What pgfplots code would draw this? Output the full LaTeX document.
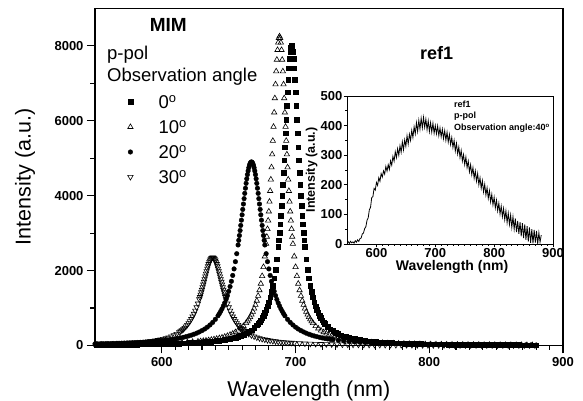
\documentclass[border=0pt]{standalone}
\usepackage{fontspec}
\setmainfont{Liberation Sans}
\usepackage{pgfplots}
\pgfplotsset{compat=1.18}
\newcommand{\fs}[1]{\fontsize{#1}{#1}\selectfont}

\begin{document}
\begin{tikzpicture}
\useasboundingbox (0pt,0pt) rectangle (583pt,401pt);
% main chart
\begin{axis}[
  at={(95pt,55.5pt)}, anchor=south west,
  width=468pt, height=337.2pt, scale only axis,
  xmin=550, xmax=900, ymin=0, ymax=9000,
  xtick={600,700,800,900}, ytick={0,2000,4000,6000,8000},
  minor x tick num=9, minor y tick num=1,
  xtick pos=bottom, ytick pos=left, tick align=outside,
  major tick length=8pt, minor tick length=4.5pt,
  every tick/.style={black, line width=1.1pt},
  axis line style={line width=1.5pt},
  scaled ticks=false,
  /pgf/number format/1000 sep={},
  /pgf/number format/assume math mode=true,
  ticklabel style={font=\fs{13}\bfseries},
  xlabel={Wavelength (nm)}, ylabel={Intensity (a.u.)},
  every axis x label/.style={at={(axis description cs:0.457,-0.1527)},anchor=base,font=\fs{21.5}},
  every axis y label/.style={at={(axis description cs:-0.1496,0.5)},rotate=90,anchor=center,font=\fs{21.5}},
  clip=false,
  legend style={draw=none, fill=none, at={(0.062,0.745)}, anchor=north west,
    inner sep=0pt, row sep=6pt, column sep=0pt, font=\fs{18.5},
    cells={anchor=base west},
    nodes={inner sep=0pt, text height=14pt, text depth=5pt}},
  legend image code/.code={\draw[#1] plot coordinates {(0pt,6.5pt)}; \path (-6pt,0pt) (28pt,0pt);},
]
% 0 deg
\addplot[only marks, mark=square*, mark size=2.3pt, black] coordinates {
(551,18)(553,19)(555,19)(557,20)(559,21)(561,21)(563,22)(565,22)(567,23)(569,24)(571,25)(573,25)(575,26)(577,27)(579,28)(581,29)(583,30)(585,31)(587,32)(589,33)(591,35)(593,36)(595,38)(597,39)(599,41)(601,42)(603,44)(605,46)(607,48)(609,50)(611,53)(613,55)(615,58)(617,61)(619,64)(621,67)(623,71)(625,75)(627,79)(629,84)(631,89)(633,95)(635,101)(637,107)(639,116)(641,124)(643,134)(645,144)(647,154)(649,167)(651,181)(653,197)(655,216)(657,238)(659,263)(661,291)(663,325)(665,365)(667,413)(669,471)(671,541)
(672,582)(673,627)(674,678)(675,735)(676,800)(677,873)(678,956)(679,1051)(680,1160)(681,1285)(682,1431)(683,1600)(684,1798)(685,2031)(686,2306)(687,2631)
(687.5,2815)(688,3015)(688.5,3233)(689,3469)(689.5,3724)(690,4000)(690.5,4296)(691,4612)(691.5,4946)(692,5297)(692.5,5661)(693,6031)(693.5,6400)(694,6759)(694.5,7095)(695,7396)(695.5,7649)(696,7840)(696.5,7959)(697,8000)(697.5,7959)(698,7840)(698.5,7649)(699,7396)(699.5,7095)(700,6759)(700.5,6400)(701,6031)(701.5,5661)(702,5297)(702.5,4946)(703,4612)(703.5,4296)(704,4000)(704.5,3724)(705,3469)(705.5,3233)(706,3015)(706.5,2815)(707,2631)
(708,2306)(709,2031)(710,1798)(711,1600)(712,1431)(713,1285)(714,1160)(715,1051)(716,956)(717,873)(718,800)(719,735)(720,678)(721,627)(722,582)
(724,504)(726,440)(728,388)(730,344)(732,308)(734,276)(736,250)(738,227)(740,207)(742,189)(744,174)(746,160)(748,148)(750,137)(752,128)(754,119)(756,111)(758,104)(760,98)(762,92)(764,86)(766,81)(768,77)(770,73)(772,69)(774,66)(776,62)(778,59)(780,57)(782,54)(784,51)(786,49)(788,47)(790,45)(792,43)(794,41)(796,40)(798,38)(800,37)(802,35)(804,34)(806,33)(808,32)(810,31)(812,30)(814,29)(816,28)(818,27)(820,26)(822,25)(824,24)(826,24)(828,23)(830,22)(832,22)(834,21)(836,20)(838,20)(840,19)(842,19)(844,18)(846,18)(848,17)(850,17)(852,16)(854,16)(856,16)(858,15)(860,15)(862,14)(864,14)(866,14)(868,13)(870,13)(872,13)(874,13)(876,12)(878,12)(880,12)};
% 10 deg
\addplot[only marks, mark=triangle, mark size=3.1pt, black, mark options={line width=0.6pt}] coordinates {
(551,22)(555,23)(559,25)(563,26)(567,28)(571,30)(575,32)(579,34)(583,37)(587,40)(591,43)(595,47)(599,51)(603,56)(607,61)(611,68)(615,75)(619,84)(623,95)(627,107)
(629,114)(631,123)(633,132)(635,141)(637,153)(639,165)(641,179)(643,195)(645,213)(647,234)(649,257)(651,285)(653,317)(655,355)(657,400)(659,454)(661,520)
(663,600)(664,647)(665,699)(666,758)(667,825)(668,900)(669,986)(670,1084)(671,1196)(672,1325)(673,1475)(674,1650)(675,1854)(676,2095)(677,2378)
(678,2713)(678.5,2903)(679,3109)(679.5,3334)(680,3577)(680.5,3840)(681,4125)(681.5,4430)(682,4756)(682.5,5101)(683,5463)(683.5,5838)(684,6219)(684.5,6600)(685,6970)(685.5,7317)(686,7627)(686.5,7888)(687,8085)(687.5,8208)(688,8250)(688.5,8208)(689,8085)(689.5,7888)(690,7627)(690.5,7317)(691,6970)(691.5,6600)(692,6219)(692.5,5838)(693,5463)(693.5,5101)(694,4756)(694.5,4430)(695,4125)(695.5,3840)(696,3577)(696.5,3334)(697,3109)(697.5,2903)(698,2713)
(699,2378)(700,2095)(701,1854)(702,1650)(703,1475)(704,1325)(705,1196)(706,1084)(707,986)(708,900)(709,825)(710,758)(711,699)(712,647)(713,600)
(715,520)(717,454)(719,400)(721,355)(723,317)(725,285)(727,257)(729,234)(731,213)(733,195)(735,179)(737,165)(739,153)(741,141)(743,132)(745,123)(747,114)(749,107)
(753,95)(757,84)(761,75)(765,68)(769,61)(773,56)(777,51)(781,47)(785,43)(789,40)(793,37)(797,34)(801,32)(805,30)(809,28)(813,26)(817,25)(821,23)(825,22)(829,21)(833,20)(837,19)(841,18)(845,17)(849,16)(853,15)(857,14)(861,14)(865,13)(869,13)(873,12)(877,12)};
% 20 deg
\addplot[only marks, mark=*, mark size=2.3pt, black] coordinates {
(550,43)(552,44)(554,46)(556,48)(558,49)(560,51)(562,53)(564,55)(566,57)(568,60)(570,62)(572,65)(574,68)(576,71)(578,74)(580,77)(582,81)(584,85)(586,89)(588,93)(590,98)(592,103)(594,109)(596,115)(598,121)(600,129)(602,136)(604,145)(606,154)(608,165)(610,176)(612,188)(614,202)(616,218)(618,235)(620,254)(622,276)(624,301)(626,329)(628,361)(630,398)(632,440)(634,490)(636,548)(638,616)(640,698)
(642,795)(643,851)(644,912)(645,980)(646,1055)(647,1138)(648,1230)(649,1332)(650,1446)(651,1573)(652,1714)(653,1870)(654,2044)(655,2237)(656,2450)
(657,2683)(657.5,2807)(658,2935)(658.5,3068)(659,3205)(659.5,3345)(660,3488)(660.5,3632)(661,3776)(661.5,3920)(662,4061)(662.5,4198)(663,4328)(663.5,4450)(664,4561)(664.5,4659)(665,4743)(665.5,4811)(666,4860)(666.5,4890)(667,4900)(667.5,4890)(668,4860)(668.5,4811)(669,4743)(669.5,4659)(670,4561)(670.5,4450)(671,4328)(671.5,4198)(672,4061)(672.5,3920)(673,3776)(673.5,3632)(674,3488)(674.5,3345)(675,3205)(675.5,3068)(676,2935)(676.5,2807)(677,2683)
(678,2450)(679,2237)(680,2044)(681,1870)(682,1714)(683,1573)(684,1446)(685,1332)(686,1230)(687,1138)(688,1055)(689,980)(690,912)(691,851)(692,795)
(694,698)(696,616)(698,548)(700,490)(702,440)(704,398)(706,361)(708,329)(710,301)(712,276)(714,254)(716,235)(718,218)(720,202)(722,188)(724,176)(726,165)(728,154)
(732,136)(736,121)(740,109)(744,98)(748,89)(752,81)(756,74)(760,68)(764,62)(768,57)(772,53)(776,49)(780,46)(784,43)(788,40)(792,38)(796,35)(800,33)(804,31)(808,30)(812,28)(816,27)(820,25)(824,24)(828,23)(832,22)(836,21)(840,20)(844,19)(848,18)(852,17)(856,17)(860,16)(864,15)(868,15)(872,14)(876,14)(880,13)};
% 30 deg
\addplot[only marks, mark=triangle, mark size=3.1pt, black, mark options={rotate=180, line width=0.6pt}] coordinates {
(553,35)(557,39)(561,43)(565,48)(569,53)(573,60)
(577,68)(579,72)(581,77)(583,83)(585,89)(587,96)(589,103)(591,112)(593,121)(595,132)(597,145)(599,159)(601,175)(603,194)(605,216)(607,242)(609,272)(611,309)
(613,352)(614,378)(615,405)(616,436)(617,470)(618,508)(619,550)(620,597)(621,649)(622,707)(623,773)(624,846)(625,928)(626,1019)(627,1120)
(628,1232)(628.5,1292)(629,1355)(629.5,1420)(630,1487)(630.5,1556)(631,1627)(631.5,1699)(632,1772)(632.5,1844)(633,1916)(633.5,1985)(634,2052)(634.5,2115)(635,2173)(635.5,2224)(636,2268)(636.5,2303)(637,2329)(637.5,2345)(638,2350)(638.5,2345)(639,2329)(639.5,2303)(640,2268)(640.5,2224)(641,2173)(641.5,2115)(642,2052)(642.5,1985)(643,1916)(643.5,1844)(644,1772)(644.5,1699)(645,1627)(645.5,1556)(646,1487)(646.5,1420)(647,1355)(647.5,1292)(648,1232)
(649,1120)(650,1019)(651,928)(652,846)(653,773)(654,707)(655,649)(656,597)(657,550)(658,508)(659,470)(660,436)(661,405)(662,378)(663,352)
(665,309)(667,272)(669,242)(671,216)(673,194)(675,175)(677,159)(679,145)(681,132)(683,121)(685,112)(687,103)(689,96)(691,89)(693,83)(695,77)(697,72)(699,68)
(703,60)(707,53)(711,48)(715,43)(719,39)(723,35)(727,32)(731,30)(735,27)(739,25)(743,23)(747,22)(751,20)(755,19)(759,18)(763,16)(767,15)(771,15)(775,14)(779,13)(783,12)(787,12)(791,11)(795,10)(799,10)(803,9)(807,9)(811,9)(815,8)(819,8)(823,8)(827,7)(831,7)(835,7)(839,6)(843,6)(847,6)(851,6)(855,5)(859,5)(863,5)(867,5)(871,5)(875,5)(879,4)};
\legend{0\textsuperscript{o}, 10\textsuperscript{o}, 20\textsuperscript{o}, 30\textsuperscript{o}}
\end{axis}

\node[anchor=base, inner sep=0pt, font=\fs{19}\bfseries] at (168.3pt,369.3pt) {MIM};
\node[anchor=base west, inner sep=0pt, font=\fs{18.5}] at (107pt,341pt) {p-pol};
\node[anchor=base west, inner sep=0pt, font=\fs{18.5}] at (107pt,319.3pt) {Observation angle};
\node[anchor=base west, inner sep=0pt, font=\fs{18}\bfseries] at (420pt,341pt) {ref1};

% inset
\begin{axis}[
  at={(347pt,157pt)}, anchor=south west,
  width=206pt, height=148pt, scale only axis,
  xmin=550, xmax=900, ymin=0, ymax=500,
  xtick={600,700,800,900}, ytick={0,100,200,300,400,500},
  minor x tick num=9, minor y tick num=1,
  xtick pos=bottom, ytick pos=left, tick align=outside,
  major tick length=3.5pt, minor tick length=2pt,
  every tick/.style={black, line width=0.7pt},
  axis line style={line width=0.9pt},
  axis background/.style={fill=white},
  /pgf/number format/assume math mode=true,
  ticklabel style={font=\fs{13}\bfseries, inner sep=1pt},
  xlabel={Wavelength (nm)}, ylabel={Intensity (a.u.)},
  every axis x label/.style={at={(axis description cs:0.51,-0.176)},anchor=base,font=\fs{14}\bfseries},
  every axis y label/.style={at={(axis description cs:-0.172,0.5)},rotate=90,anchor=center,font=\fs{12.5}\bfseries},
]
\addplot[black, line width=0.8pt] coordinates {
(550,3)(552,8)(554,2)(556,9)(558,4)(560,7)(562,3)(564,11)(566,6)(568,14)(570,9)(572,18)(574,20)(576,34)(578,37)(580,52)(582,58)(584,80)(586,88)(588,116)(590,124)(592,157)(594,160)(596,188)(598,182)(600,208)(602,198)(604,224)(606,212)(608,238)(610,226)(612,247)(614,236)(616,262)(618,246)(620,268)(622,252)(624,281)(626,266)(628,296)(630,280)(632,312)(634,292)(636,322)(638,300)(640,332)(642,310)(644,345)(646,318)(648,352)(650,330)(652,366)(654,338)(656,371)(658,350)(660,384)(662,360)(664,396)(666,372)(668,410)(670,380)(672,418)(674,388)(676,425)(678,392)(680,428)(682,394)(684,422)(686,386)(688,416)(690,380)(692,410)(694,378)(696,408)(698,374)(700,400)(702,372)(704,399)(706,366)(708,392)(710,362)(712,388)(714,356)(716,383)(718,350)(720,378)(722,344)(724,370)(726,336)(728,360)(730,326)(732,350)(734,314)(736,340)(738,304)(740,328)(742,292)(744,316)(746,280)(748,302)(750,268)(752,294)(754,258)(756,280)(758,244)(760,268)(762,234)(764,258)(766,222)(768,247)(770,212)(772,238)(774,200)(776,224)(778,188)(780,214)(782,176)(784,202)(786,165)(788,190)(790,154)(792,180)(794,142)(796,168)(798,132)(800,158)(802,122)(804,148)(806,112)(808,138)(810,101)(812,128)(814,92)(816,120)(818,82)(820,112)(822,72)(824,104)(826,66)(828,98)(830,56)(832,92)(834,50)(836,86)(838,40)(840,78)(842,34)(844,74)(846,26)(848,70)(850,20)(852,66)(854,14)(856,60)(858,8)(860,56)(862,4)(864,50)(866,2)(868,48)(870,5)(872,44)(874,0)(876,38)(878,6)(880,30)};
\end{axis}

\node[anchor=base west, inner sep=0pt, font=\fs{9}\bfseries] at (454pt,293.3pt) {ref1};
\node[anchor=base west, inner sep=0pt, font=\fs{9}\bfseries] at (454pt,282pt) {p-pol};
\node[anchor=base west, inner sep=0pt, font=\fs{9}\bfseries] at (454pt,270pt) {Observation angle:40\textsuperscript{o}};
\end{tikzpicture}
\end{document}
